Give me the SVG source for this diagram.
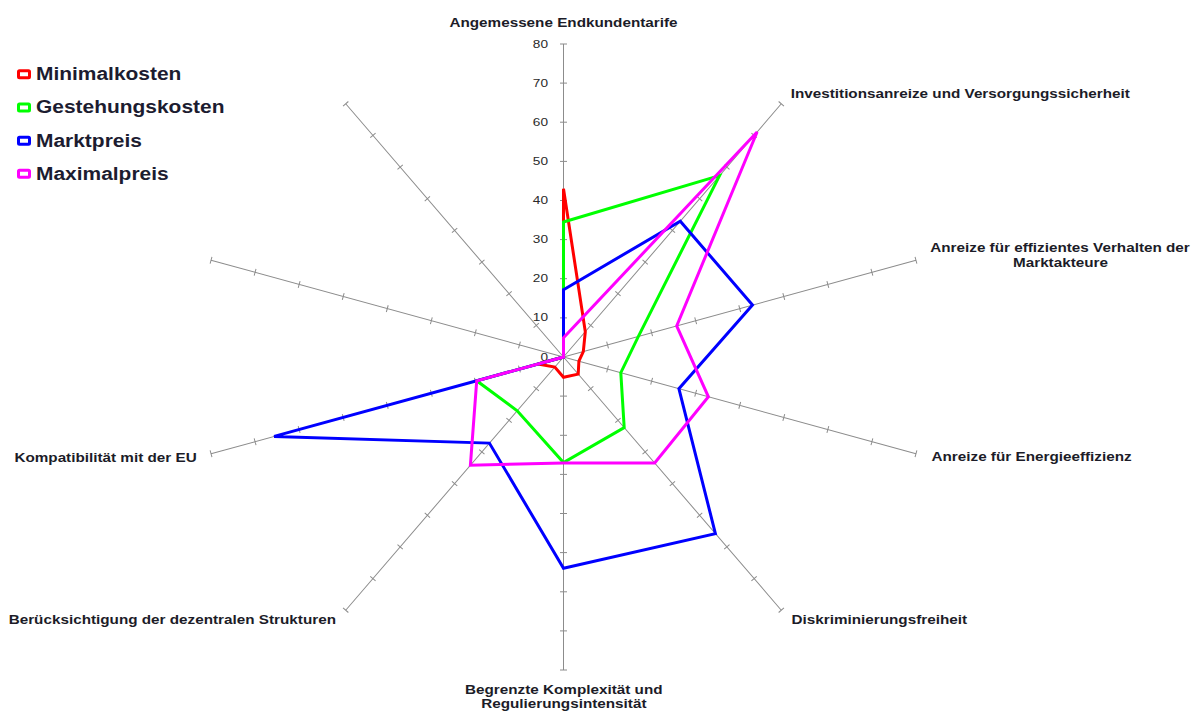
<svg xmlns="http://www.w3.org/2000/svg" xmlns:xlink="http://www.w3.org/1999/xlink" width="1193" height="711" viewBox="0 0 1193 711">
<style>
.ax{fill:none;stroke:#8c8c8c;stroke-width:1}
.s{fill:none;stroke-width:3;stroke-linejoin:miter}
.lbl{font-family:"Liberation Sans",Arial,sans-serif;font-weight:bold;font-size:12.9px;fill:#1c1c28}
.tk{font-family:"Liberation Sans",Arial,sans-serif;font-size:10.5px;fill:#2a2a2a;text-anchor:end}
.lg{font-family:"Liberation Sans",Arial,sans-serif;font-weight:bold;font-size:17.7px;fill:#1c1c30}
.mk{fill:#fff;stroke-width:3}
</style>
<defs>
<path id="axA" d="M0,0H313 M39.1,-3.5V3.5 M78.3,-3.5V3.5 M117.4,-3.5V3.5 M156.5,-3.5V3.5 M195.6,-3.5V3.5 M234.8,-3.5V3.5 M273.9,-3.5V3.5 M313,-3.5V3.5"/>
<path id="axB" d="M0,0H334 M41.75,-3.5V3.5 M83.5,-3.5V3.5 M125.25,-3.5V3.5 M167,-3.5V3.5 M208.75,-3.5V3.5 M250.5,-3.5V3.5 M292.25,-3.5V3.5 M334,-3.5V3.5"/>
<path id="axC" d="M0,0H365.5 M45.69,-3.5V3.5 M91.38,-3.5V3.5 M137.06,-3.5V3.5 M182.75,-3.5V3.5 M228.44,-3.5V3.5 M274.13,-3.5V3.5 M319.81,-3.5V3.5 M365.5,-3.5V3.5"/>
</defs>
<rect width="1193" height="711" fill="#fff"/>
<g id="axes" class="ax">
<use xlink:href="#axA" href="#axA" transform="translate(563.5,357) rotate(-90)"/>
<use xlink:href="#axB" href="#axB" transform="translate(563.5,357) rotate(-49.3)"/>
<use xlink:href="#axC" href="#axC" transform="translate(563.5,357) rotate(-15.35)"/>
<use xlink:href="#axC" href="#axC" transform="translate(563.5,357) rotate(15.35)"/>
<use xlink:href="#axB" href="#axB" transform="translate(563.5,357) rotate(49.3)"/>
<use xlink:href="#axA" href="#axA" transform="translate(563.5,357) rotate(90)"/>
<use xlink:href="#axB" href="#axB" transform="translate(563.5,357) rotate(130.7)"/>
<use xlink:href="#axC" href="#axC" transform="translate(563.5,357) rotate(164.65)"/>
<use xlink:href="#axC" href="#axC" transform="translate(563.5,357) rotate(-164.65)"/>
<use xlink:href="#axB" href="#axB" transform="translate(563.5,357) rotate(-130.7)"/>
</g>
<g id="scale">
<text class="tk" transform="translate(548,360.5) scale(1.3,1)">0</text>
<text class="tk" transform="translate(548,321.4) scale(1.3,1)">10</text>
<text class="tk" transform="translate(548,282.3) scale(1.3,1)">20</text>
<text class="tk" transform="translate(548,243.1) scale(1.3,1)">30</text>
<text class="tk" transform="translate(548,204) scale(1.3,1)">40</text>
<text class="tk" transform="translate(548,164.9) scale(1.3,1)">50</text>
<text class="tk" transform="translate(548,125.8) scale(1.3,1)">60</text>
<text class="tk" transform="translate(548,86.6) scale(1.3,1)">70</text>
<text class="tk" transform="translate(548,47.5) scale(1.3,1)">80</text>
</g>
<g id="series">
<polygon id="minimalkosten" class="s" stroke="#ff0000" points="563.5,188.8 585.3,331.7 583.3,351.6 578.9,361.2 578.2,374.1 563.5,377.3 554.8,367.1 538,364 563.5,357 563.5,357"/>
<polygon id="gestehungskosten" class="s" stroke="#00ff00" points="563.5,222 719.5,175.6 638.4,336.4 620.8,372.7 624.2,427.6 563.5,462.6 517.2,410.8 476.7,380.8 563.5,357 563.5,357"/>
<polygon id="marktpreis" class="s" stroke="#0000ff" points="563.5,289.7 680.3,221.2 752.5,305.1 678.9,388.7 715.4,533.6 563.5,568.3 489.4,443.1 274.1,436.4 563.5,357 563.5,357"/>
<polygon id="maximalpreis" class="s" stroke="#ff00ff" points="563.5,337.8 757.1,132 676.7,325.9 708.4,396.8 654.7,463 563.5,463 470.4,465.3 476.7,380.8 563.5,357 563.5,357"/>
</g>
<g id="labels">
<text class="lbl" text-anchor="middle" transform="translate(563.5,27) scale(1.184,1)">Angemessene Endkundentarife</text>
<text class="lbl" transform="translate(790.7,98.3) scale(1.184,1)">Investitionsanreize und Versorgungssicherheit</text>
<text class="lbl" text-anchor="middle" transform="translate(1060,251.8) scale(1.184,1)">Anreize für effizientes Verhalten der</text>
<text class="lbl" text-anchor="middle" transform="translate(1060.5,266.8) scale(1.184,1)">Marktakteure</text>
<text class="lbl" transform="translate(931.5,461) scale(1.184,1)">Anreize für Energieeffizienz</text>
<text class="lbl" transform="translate(791.5,624) scale(1.184,1)">Diskriminierungsfreiheit</text>
<text class="lbl" text-anchor="middle" transform="translate(563.8,694.3) scale(1.184,1)">Begrenzte Komplexität und</text>
<text class="lbl" text-anchor="middle" transform="translate(563.8,708.3) scale(1.184,1)">Regulierungsintensität</text>
<text class="lbl" text-anchor="end" transform="translate(336,624) scale(1.184,1)">Berücksichtigung der dezentralen Strukturen</text>
<text class="lbl" text-anchor="end" transform="translate(196.7,461.5) scale(1.184,1)">Kompatibilität mit der EU</text>
</g>
<g id="legend">
<rect class="mk" stroke="#ff0000" x="18.5" y="70.8" width="11" height="7" rx="1"/>
<text class="lg" transform="translate(36,80) scale(1.184,1)">Minimalkosten</text>
<rect class="mk" stroke="#00ff00" x="18.5" y="104" width="11" height="7" rx="1"/>
<text class="lg" transform="translate(36,113.2) scale(1.184,1)">Gestehungskosten</text>
<rect class="mk" stroke="#0000ff" x="18.5" y="137.3" width="11" height="7" rx="1"/>
<text class="lg" transform="translate(36,146.5) scale(1.184,1)">Marktpreis</text>
<rect class="mk" stroke="#ff00ff" x="18.5" y="170.3" width="11" height="7" rx="1"/>
<text class="lg" transform="translate(36,179.5) scale(1.184,1)">Maximalpreis</text>
</g>
</svg>
